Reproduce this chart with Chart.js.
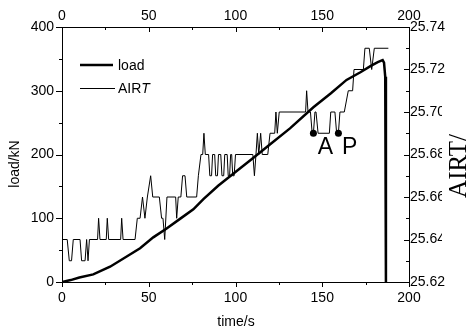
<!DOCTYPE html>
<html>
<head>
<meta charset="utf-8">
<script src="https://cdn.jsdelivr.net/npm/chart.js@4/dist/chart.umd.min.js"></script>
<style>
  body { margin: 0; background: #fff; }
  #wrap { width: 468px; height: 330px; }
</style>
</head>
<body>
<div id="wrap"><canvas id="myChart" width="468" height="330"></canvas></div>
<script>
// load curve (left axis)
const loadTime = [0, 5, 10, 18, 27.7, 37.3, 45, 52.6, 60.3, 68, 75.7, 81.5, 90, 100.7, 110, 120, 131.4, 144.9, 155, 164, 172, 178, 182, 184.8, 185.6, 186.3, 186.7];
const loadValue = [0, 3, 7, 12, 24, 40, 53, 70, 84, 99, 114, 130, 151, 174, 194, 216, 241, 274, 296, 317, 329, 339, 345, 348, 344, 322, 0];

// AIRT trace (right axis)
const airtTime = [0, 3, 4.2, 5.5, 6.5, 10.4, 11.3, 13.3, 14.2, 15.0, 15.8, 20.5, 21.1, 21.9, 25.5, 26.1, 26.9, 33.8, 34.4, 35.2, 42.1, 43.4, 45, 46.4, 47.8, 49.2, 51.1, 52.3, 56.1, 57.4, 58.2, 59.2, 60.5,
  65.5, 66.1, 67, 68.5, 69.5, 70.9, 71.9, 77.6, 78.6, 80.1, 81.1, 81.8, 82.6, 84.5, 85.2, 86.2, 86.8, 88, 88.6, 89.6, 90.2, 91.5, 92.2, 93.2, 93.8, 95.2, 95.8, 96.6, 97.2, 97.8, 98.4, 99.2, 100,
  110, 110.9, 111.8, 112.6, 113.4, 114.5, 115.4, 118.6, 119.9, 122.6, 123.3, 124.1, 125.2, 140.4, 141, 141.8, 143.2, 144.2, 144.9, 145.8, 146.4, 147.6, 154.1, 154.9, 157.3, 158.3, 159.3, 160.2, 162.7,
  165, 167.5, 168.3, 173.7, 174.6, 177.1, 178.5, 180, 188.1];
const airtValue = [25.64, 25.64, 25.63, 25.63, 25.64, 25.64, 25.63, 25.63, 25.64, 25.63, 25.64, 25.64, 25.65, 25.64, 25.64, 25.65, 25.64, 25.64, 25.65, 25.64, 25.64, 25.65, 25.65, 25.66, 25.65, 25.66, 25.67, 25.66, 25.66, 25.65, 25.65, 25.64, 25.66,
  25.66, 25.65, 25.66, 25.66, 25.67, 25.67, 25.66, 25.66, 25.67, 25.68, 25.68, 25.69, 25.68, 25.68, 25.67, 25.67, 25.68, 25.68, 25.67, 25.67, 25.68, 25.68, 25.67, 25.67, 25.68, 25.68, 25.67, 25.67, 25.68, 25.68, 25.67, 25.67, 25.68,
  25.68, 25.67, 25.68, 25.69, 25.68, 25.69, 25.68, 25.68, 25.69, 25.69, 25.70, 25.69, 25.70, 25.70, 25.71, 25.70, 25.70, 25.69, 25.69, 25.70, 25.70, 25.69, 25.69, 25.70, 25.70, 25.69, 25.69, 25.70, 25.70,
  25.71, 25.71, 25.72, 25.72, 25.73, 25.73, 25.72, 25.73, 25.73];

// marked points A and P
const markerTime = [144.9, 159.3];
const markerValue = [25.69, 25.69];
const markerText = ['A', 'P'];
const markerTextTime = [151.8, 165.8];
const markerTextValue = [25.683, 25.683];

const sans = '"Liberation Sans", Arial, sans-serif';
const serif = '"Liberation Serif", "Times New Roman", serif';

const toPoints = (xs, ys) => xs.map((t, i) => ({ x: t, y: ys[i] }));

// fixed axis sizes so the plot box sits where the original one does
const fixWidth = w => scale => { scale.width = w; };
const fixHeight = h => scale => { scale.height = h; };

const axisLook = {
  grid: { drawOnChartArea: false, drawTicks: false },
  border: { display: true, color: '#000', width: 1 }
};

const extras = {
  id: 'extras',
  afterDraw(chart) {
    const c = chart.ctx;
    const { x, y, y2 } = chart.scales;
    const a = chart.chartArea;
    c.save();
    c.strokeStyle = '#000';
    c.lineWidth = 1;
    const seg = (x1, y1, x2, y2) => { c.beginPath(); c.moveTo(x1, y1); c.lineTo(x2, y2); c.stroke(); };

    // x ticks: bottom outward, top inward
    for (let v = 0; v <= 200; v += 25) {
      const px = Math.round(x.getPixelForValue(v)) + 0.5;
      const len = v % 50 === 0 ? 5 : 3;
      seg(px, a.bottom, px, a.bottom + len);
      seg(px, a.top, px, a.top + len);
    }
    // left ticks outward
    for (let v = 0; v <= 400; v += 50) {
      const py = Math.round(y.getPixelForValue(v)) + 0.5;
      seg(a.left, py, a.left - (v % 100 === 0 ? 6 : 3), py);
    }
    // right ticks inward
    for (let k = 0; k <= 12; k++) {
      const py = Math.round(y2.getPixelForValue(25.62 + k * 0.01)) + 0.5;
      seg(a.right, py, a.right - (k % 2 === 0 ? 5 : 3), py);
    }

    // legend
    c.fillStyle = '#000';
    c.font = '14px ' + sans;
    c.textBaseline = 'middle';
    c.textAlign = 'left';
    c.lineWidth = 2.5;
    seg(80, 65, 113, 65);
    c.fillText('load', 118, 66);
    c.lineWidth = 1;
    seg(80, 88.5, 115, 88.5);
    c.fillText('AIR', 118, 89);
    const w = c.measureText('AIR').width;
    c.font = 'italic 14px ' + sans;
    c.fillText('T', 118 + w, 89);

    // A / P labels
    c.font = '23px ' + sans;
    c.textAlign = 'center';
    markerText.forEach((s, i) => {
      c.fillText(s, x.getPixelForValue(markerTextTime[i]), y2.getPixelForValue(markerTextValue[i]));
    });

    // axis titles
    c.font = '14px ' + sans;
    c.fillText('time/s', 236, 322);
    c.save();
    c.translate(15, 164);
    c.rotate(-Math.PI / 2);
    c.fillText('load/kN', 0, 0);
    c.restore();

    // right title sits on a white box that hides part of the tick labels
    c.fillStyle = '#fff';
    c.fillRect(442, 92, 26, 160);
    c.fillStyle = '#000';
    c.font = '25px ' + serif;
    c.textBaseline = 'alphabetic';
    c.translate(466, 166);
    c.rotate(-Math.PI / 2);
    c.fillText('AIRT/', 0, 0);
    c.restore();
  }
};

const ctx = document.getElementById('myChart').getContext('2d');
new Chart(ctx, {
  type: 'line',
  data: {
    datasets: [
      {
        label: 'load',
        data: toPoints(loadTime, loadValue),
        xAxisID: 'x', yAxisID: 'y',
        borderColor: '#000', borderWidth: 2.5,
        pointRadius: 0, tension: 0, fill: false
      },
      {
        label: 'AIRT',
        data: toPoints(airtTime, airtValue),
        xAxisID: 'x', yAxisID: 'y2',
        borderColor: '#000', borderWidth: 1,
        pointRadius: 0, tension: 0, fill: false
      },
      {
        label: 'marks',
        data: toPoints(markerTime, markerValue),
        xAxisID: 'x', yAxisID: 'y2',
        showLine: false,
        pointRadius: 3.5, pointBackgroundColor: '#000', pointBorderColor: '#000', pointBorderWidth: 0
      }
    ]
  },
  options: {
    responsive: false,
    animation: false,
    layout: { padding: 0 },
    plugins: { legend: { display: false }, tooltip: { enabled: false } },
    scales: {
      x: {
        type: 'linear', position: 'bottom', min: 0, max: 200,
        ticks: { stepSize: 50, padding: 8, color: '#000', font: { family: sans, size: 14 } },
        afterFit: fixHeight(48),
        ...axisLook
      },
      x2: {
        type: 'linear', position: 'top', min: 0, max: 200,
        ticks: { stepSize: 50, padding: 2, color: '#000', font: { family: sans, size: 14 } },
        afterFit: fixHeight(27),
        ...axisLook
      },
      y: {
        type: 'linear', position: 'left', min: 0, max: 400,
        ticks: { stepSize: 100, padding: 8, color: '#000', font: { family: sans, size: 14 } },
        afterFit: fixWidth(62),
        ...axisLook
      },
      y2: {
        type: 'linear', position: 'right', min: 25.62, max: 25.74,
        ticks: { stepSize: 0.02, padding: 1, color: '#000', font: { family: sans, size: 14 },
                 callback: v => v.toFixed(2) },
        afterFit: fixWidth(59),
        ...axisLook
      }
    }
  },
  plugins: [extras]
});
</script>
</body>
</html>
